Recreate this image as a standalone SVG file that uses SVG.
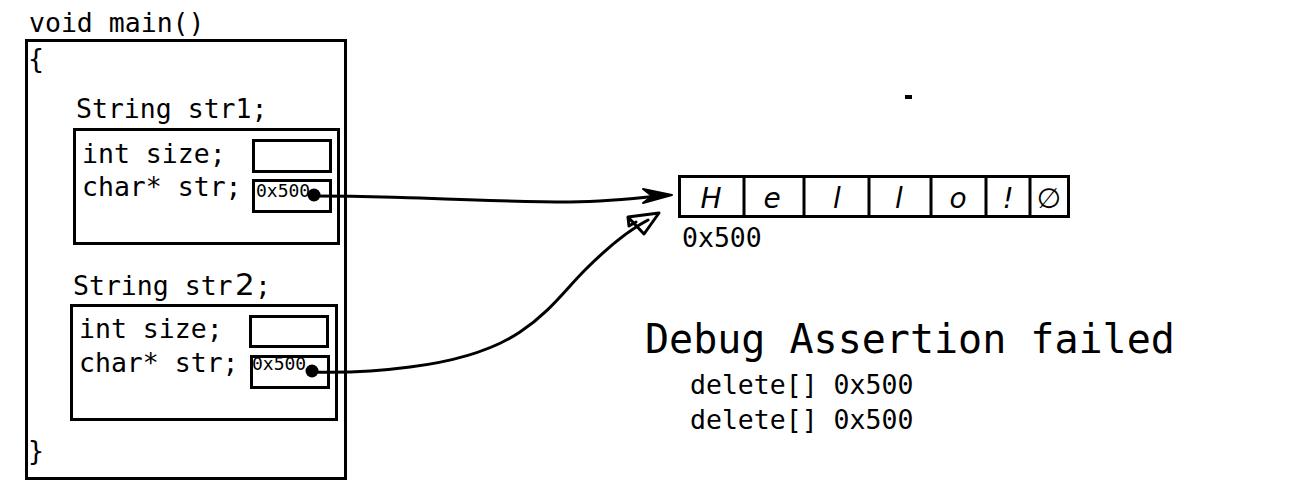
<svg xmlns="http://www.w3.org/2000/svg" width="1310" height="500" viewBox="0 0 1310 500">
<style>
.t{font-family:"DejaVu Sans Mono","Liberation Mono",monospace;font-size:26.5px;fill:#000}
.s{font-family:"DejaVu Sans Mono","Liberation Mono",monospace;font-size:18px;fill:#000}
.b{fill:none;stroke:#000;stroke-width:3}
.h{font-family:"DejaVu Sans","Liberation Sans",sans-serif;font-style:italic;font-size:28px;fill:#000;text-anchor:middle}
.w{fill:none;stroke:#000;stroke-width:3;stroke-linecap:round;stroke-linejoin:round}
</style>
<rect width="1310" height="500" fill="#fff"/>
<g id="main">
<text class="t" x="29" y="32">void main()</text>
<rect class="b" x="26.5" y="40.5" width="319" height="438"/>
<text class="t" x="28" y="68">{</text>
<text class="t" x="28" y="460">}</text>
</g>
<g id="str1">
<text class="t" x="76" y="118">String str1;</text>
<rect class="b" x="74.5" y="129.5" width="264" height="114"/>
<text class="t" x="82" y="163">int size;</text>
<text class="t" x="82" y="196">char* str;</text>
<rect class="b" x="253.5" y="140.5" width="77" height="31"/>
<rect class="b" x="253.5" y="180.5" width="77" height="31"/>
<text class="s" x="256" y="197">0x500</text>
<circle cx="314" cy="195" r="6.5" fill="#000"/>
</g>
<g id="str2">
<text class="t" x="73" y="295">String str</text>
<text x="235" y="295" style="font-family:'DejaVu Sans',sans-serif;font-size:31px;fill:#000">2</text>
<text class="t" x="255" y="295">;</text>
<rect class="b" x="71.5" y="305.5" width="265" height="114"/>
<text class="t" x="79" y="338">int size;</text>
<text class="t" x="79" y="372">char* str;</text>
<rect class="b" x="250.5" y="316.5" width="77" height="30"/>
<rect class="b" x="251.5" y="356.5" width="77" height="31"/>
<text class="s" x="252" y="370">0x500</text>
<circle cx="312" cy="371" r="6.5" fill="#000"/>
</g>
<g id="array">
<rect class="b" x="679.5" y="176.5" width="389" height="40"/>
<path class="b" d="M744 176v40M804 176v40M869 176v40M931 176v40M986 176v42M1030 176v40"/>
<text class="h" x="711" y="208">H</text>
<text class="h" x="772" y="208">e</text>
<text class="h" x="837" y="208">l</text>
<text class="h" x="899" y="208">l</text>
<text class="h" x="958" y="208">o</text>
<text class="h" x="1008" y="208">!</text>
<text class="h" x="1049" y="208" style="font-style:normal">∅</text>
<text class="t" x="682" y="247">0x500</text>
</g>
<g id="connectors">
<path class="w" d="M314 196 C360 196 380 197 420 198 C470 200 520 202 570 202 C610 202 640 198 666 195"/>
<path d="M643 189 L672 195 L643 203 L652 196 Z" fill="#000" stroke="#000" stroke-width="2" stroke-linejoin="round"/>
<path class="w" d="M312 372 C350 373 380 371 410 367 C450 362 490 352 520 332 C550 312 565 290 585 270 C605 250 625 232 648 220"/>
<path class="w" d="M628 217 L659 213 L644 234 Z M628 217 L629 226 L636 222"/>
</g>
<g id="message">
<rect x="905" y="95" width="7" height="4" fill="#000"/>
<text class="t" x="645" y="353" style="font-size:40px">Debug Assertion failed</text>
<text class="t" x="690" y="394">delete[] 0x500</text>
<text class="t" x="690" y="429">delete[] 0x500</text>
</g>
</svg>
